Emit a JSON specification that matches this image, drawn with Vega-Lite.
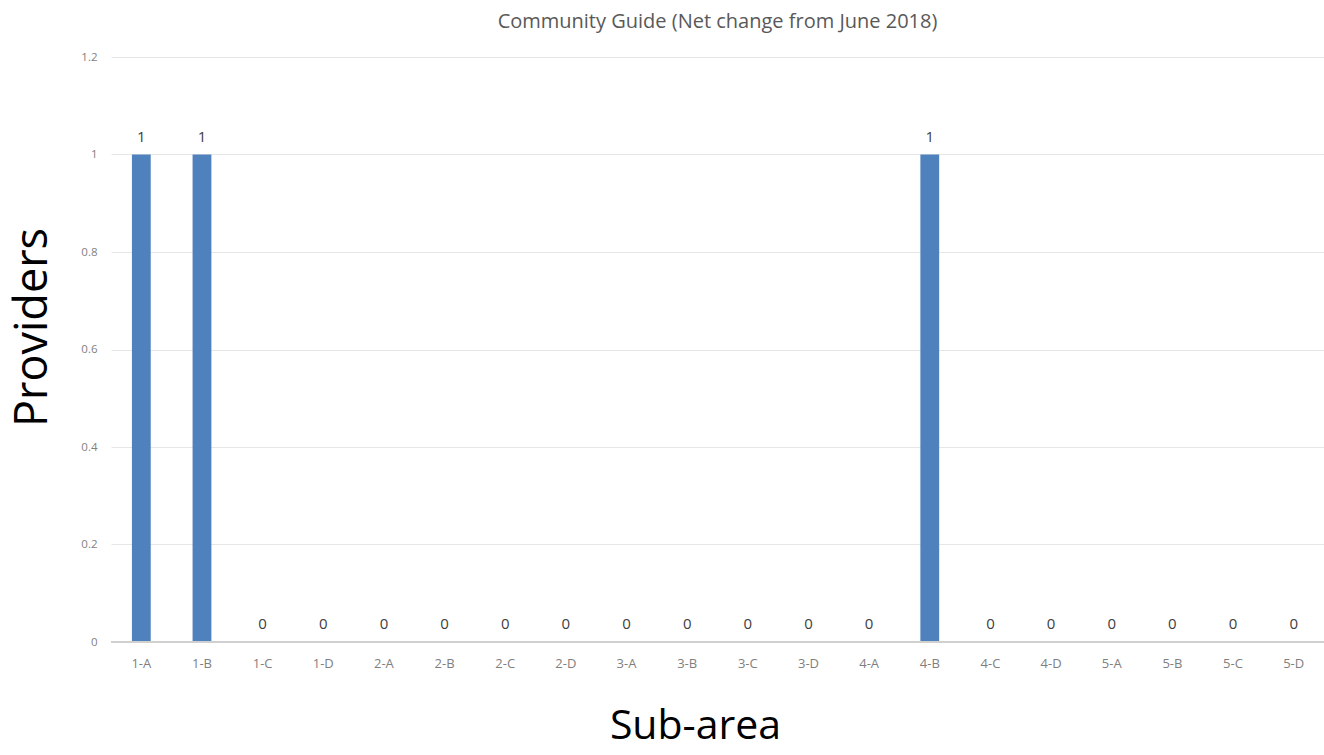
{
  "$schema": "https://vega.github.io/schema/vega-lite/v6.json",
  "autosize": "none",
  "width": 1213,
  "height": 585,
  "padding": {"left": 111, "top": 57, "right": 0, "bottom": 113},
  "background": "white",
  "config": {"view": {"stroke": null}, "font": "Open Sans"},
  "title": {"text": "Community Guide (Net change from June 2018)", "fontSize": 20, "fontWeight": "normal", "color": "#595959", "font": "Open Sans", "offset": 19, "anchor": "middle"},
  "data": {"values": [
    {"area": "1-A", "value": 1}, {"area": "1-B", "value": 1}, {"area": "1-C", "value": 0}, {"area": "1-D", "value": 0},
    {"area": "2-A", "value": 0}, {"area": "2-B", "value": 0}, {"area": "2-C", "value": 0}, {"area": "2-D", "value": 0},
    {"area": "3-A", "value": 0}, {"area": "3-B", "value": 0}, {"area": "3-C", "value": 0}, {"area": "3-D", "value": 0},
    {"area": "4-A", "value": 0}, {"area": "4-B", "value": 1}, {"area": "4-C", "value": 0}, {"area": "4-D", "value": 0},
    {"area": "5-A", "value": 0}, {"area": "5-B", "value": 0}, {"area": "5-C", "value": 0}, {"area": "5-D", "value": 0}
  ]},
  "encoding": {
    "x": {"field": "area", "type": "nominal", "sort": null,
      "scale": {"paddingInner": 0.69, "paddingOuter": 0.345},
      "axis": {"title": "Sub-area", "titleFontSize": 41, "titleFontWeight": "normal", "titleColor": "#000000", "titleBaseline": "alphabetic", "titleY": 96, "titleX": 584,
        "labelAngle": 0, "labelFontSize": 13, "labelColor": "#7f7f7f", "labelPadding": 15, "ticks": false, "domain": false, "grid": false}},
    "y": {"field": "value", "type": "quantitative",
      "scale": {"domain": [0, 1.2], "nice": false},
      "axis": {"title": "Providers", "titleFontSize": 45, "titleFontWeight": "normal", "titleColor": "#000000", "titlePadding": 25, "titleY": 270,
        "values": [0, 0.2, 0.4, 0.6, 0.8, 1, 1.2], "format": "~g", "labelFontSize": 11.5, "labelColor": "#7f7f7f", "labelPadding": 14,
        "ticks": false, "domain": false, "grid": true, "gridColor": "#e6e6e6", "gridWidth": 1.2}}
  },
  "layer": [
    {"mark": {"type": "bar", "color": "#4f81bd"}},
    {"mark": {"type": "rule", "color": "#d0d0d0", "strokeWidth": 1.2}, "encoding": {"x": null, "y": {"datum": 0}}},
    {"mark": {"type": "text", "dy": -18, "fontSize": 15, "color": "#404040"}, "encoding": {"text": {"field": "value", "type": "quantitative"}}}
  ]
}
